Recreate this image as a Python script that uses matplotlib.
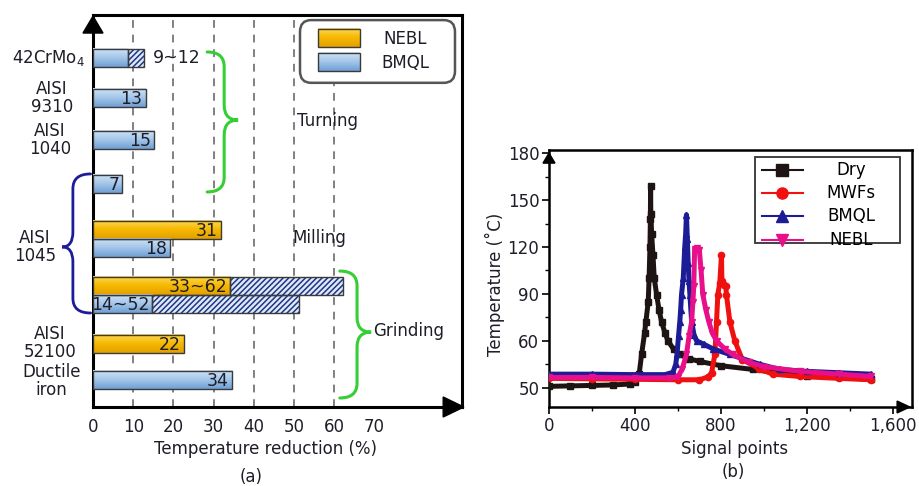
import numpy as np
import matplotlib
matplotlib.use('Agg')
import matplotlib.pyplot as plt
from matplotlib.patches import Rectangle, Polygon, PathPatch, FancyBboxPatch
from matplotlib.path import Path
from matplotlib.colors import LinearSegmentedColormap
from matplotlib.lines import Line2D

# ---------------- data: panel (a) ----------------
materials = ['42CrMo$_4$', 'AISI\n9310', 'AISI\n1040', 'AISI\n1045', 'AISI\n52100', 'Ductile\niron']
processes = ['Turning', 'Milling', 'Grinding']
bar_fluid = ['BMQL', 'BMQL', 'BMQL', 'BMQL', 'NEBL', 'BMQL', 'NEBL', 'BMQL', 'NEBL', 'BMQL']
bar_low = [8.6, 13.1, 15.2, 7.3, 31.8, 19.2, 34.2, 14.8, 22.7, 34.6]
bar_high = [12.7, np.nan, np.nan, np.nan, np.nan, np.nan, 62.3, 51.3, np.nan, np.nan]
bar_text = ['9~12', '13', '15', '7', '31', '18', '33~62', '14~52', '22', '34']
x_ticks_a = [0, 10, 20, 30, 40, 50, 60, 70]
legend_a = ['NEBL', 'BMQL']

# ---------------- data: panel (b) ----------------
dry_x = [0, 100, 200, 300, 377, 400, 420, 431, 445, 451, 462, 466, 470, 472, 473,
         474, 478, 484, 490, 501, 512, 524, 540, 554, 580, 609, 650, 702, 800, 950,
         1042, 1200, 1350, 1500]
dry_y = [50.3, 50.4, 50.5, 50.6, 50.8, 51.2, 53.0, 57.1, 65.0, 72.2, 85.0, 100.0, 120.0, 138.0, 159.0,
         141.0, 128.0, 115.0, 100.0, 89.6, 80.0, 72.2, 65.0, 60.0, 58.2, 57.1, 56.2, 55.6, 54.7, 53.9,
         53.3, 52.6, 52.2, 51.8]
mwf_x = [0, 200, 400, 600, 700, 740, 757, 772, 780, 786, 795, 803, 805, 815, 823, 826,
         842, 865, 900, 980, 1042, 1167, 1350, 1500]
mwf_y = [52.0, 51.9, 51.8, 51.7, 51.7, 52.3, 53.2, 57.1, 72.2, 89.6, 97.0, 114.7, 98.3, 96.0, 95.0, 89.6,
         72.2, 60.0, 56.0, 54.0, 52.9, 52.4, 52.0, 51.7]
bmql_x = [0, 200, 400, 540, 577, 590, 596, 603, 609, 613, 617, 625, 632, 636, 640, 644, 648,
          652, 656, 664, 675, 687, 720, 763, 842, 981, 1074, 1200, 1350, 1500]
bmql_y = [52.9, 52.9, 52.8, 52.8, 53.3, 55.0, 57.1, 63.0, 72.2, 80.0, 89.6, 100.0, 120.0, 128.0, 140.6, 125.0, 110.0,
          98.0, 89.6, 72.2, 64.0, 60.0, 59.3, 58.3, 57.1, 55.0, 53.9, 53.5, 53.2, 52.9]
nebl_x = [0, 200, 400, 560, 600, 620, 640, 652, 664, 670, 674, 678, 690, 700, 708, 716, 730,
          744, 760, 780, 820, 856, 932, 1000, 1167, 1350, 1500]
nebl_y = [52.2, 52.2, 52.1, 52.1, 52.3, 54.0, 57.1, 63.0, 72.2, 85.0, 95.0, 119.0, 119.5, 118.0, 105.0, 89.6, 80.0,
          72.2, 65.0, 60.0, 58.2, 57.1, 55.4, 54.5, 53.5, 52.9, 52.4]
series_names = ['Dry', 'MWFs', 'BMQL', 'NEBL']
x_ticks_b = [0, 400, 800, 1200, 1600]
x_ticklabels_b = ['0', '400', '800', '1,200', '1,600']
y_ticks_b = [50, 60, 90, 120, 150, 180]

# ---------------- styles ----------------
TXT = '#1e1e28'
GOLD = ['#ffd957', '#f6b800', '#e3a000']
BLUE = ['#d3e4f5', '#a3c6ea', '#6f9fd3']
HATCH_FC = '#dfe9f6'
HATCH_EC = '#1f3585'
EDGE = '#3a3a3a'
GREEN = '#35cf35'
NAVY = '#1c1c9a'
line_colors = ['#1e1414', '#f01010', '#1c1c96', '#e8108a']
line_markers = ['s', 'o', '^', 'v']

plt.rcParams['font.family'] = ['DejaVu Sans']
plt.rcParams['hatch.linewidth'] = 1.1

fig = plt.figure(figsize=(9.19, 4.86), dpi=100)
W, H = 919.0, 486.0


def fx(px):
    return px / W


def fy(py):
    return 1 - py / H


# ======================= panel (a) =======================
axa = fig.add_axes([fx(93), fy(407), (462 - 93) / W, (407 - 15) / H])
row_pos = [0, 2.17, 4.46, 6.85, 9.35, 10.33, 12.39, 13.37, 15.54, 17.5]
bar_h = 0.98
mat_pos = [(0.0, -2.0, 'right'), (2.17, -10.2, 'center'), (4.46, -10.7, 'center'),
           (10.27, -14.4, 'center'), (15.49, -10.7, 'center'), (17.55, -10.4, 'center')]


def gradient_rect(ax, x0, x1, yc, h, colors, z=3):
    cmap = LinearSegmentedColormap.from_list('g', colors)
    grad = np.linspace(0, 1, 60).reshape(-1, 1)
    ax.imshow(grad, extent=(x0, x1, yc + h / 2, yc - h / 2), origin='upper',
              aspect='auto', cmap=cmap, zorder=z, interpolation='bilinear')


for i, (yc, fl) in enumerate(zip(row_pos, bar_fluid)):
    lo = bar_low[i]
    hi = bar_high[i]
    cols = GOLD if fl == 'NEBL' else BLUE
    gradient_rect(axa, 0, lo, yc, bar_h, cols)
    axa.add_patch(Rectangle((0, yc - bar_h / 2), lo, bar_h, fill=False, ec=EDGE, lw=1.0, zorder=5))
    if not np.isnan(hi):
        axa.add_patch(Rectangle((lo, yc - bar_h / 2), hi - lo, bar_h, fc=HATCH_FC, ec=HATCH_EC,
                                hatch='//////', lw=0, zorder=3))
        axa.add_patch(Rectangle((lo, yc - bar_h / 2), hi - lo, bar_h, fill=False, ec=EDGE, lw=1.0, zorder=5))
    if i == 0:
        axa.text(hi + 2.3, yc, bar_text[i], ha='left', va='center', fontsize=12.5, color=TXT, zorder=6)
    else:
        axa.text(lo - 0.8, yc + 0.05, bar_text[i], ha='right', va='center', fontsize=12.5, color=TXT, zorder=6)

for (yc, xc, ha), m in zip(mat_pos, materials):
    axa.text(xc, yc, m, ha=ha, va='center', fontsize=12, color=TXT, linespacing=1.0,
             multialignment='center', clip_on=False)

for xv in x_ticks_a[1:-1]:
    axa.axvline(xv, color='#808080', lw=1.4, ls=(0, (4, 3.5)), zorder=1)


def brace(ax, x_end, x_tip, y0, y1, ym, color, frac=0.55, r=0.8, lw=2.2):
    xl = x_end + (x_tip - x_end) * frac
    verts = [(x_end, y0), (xl, y0), (xl, y0 + r), (xl, ym - r), (xl, ym), (x_tip, ym),
             (xl, ym), (xl, ym + r), (xl, y1 - r), (xl, y1), (x_end, y1)]
    codes = [Path.MOVETO, Path.CURVE3, Path.CURVE3, Path.LINETO, Path.CURVE3, Path.CURVE3,
             Path.CURVE3, Path.CURVE3, Path.LINETO, Path.CURVE3, Path.CURVE3]
    ax.add_patch(PathPatch(Path(verts, codes), fill=False, ec=color, lw=lw, clip_on=False, zorder=6,
                           capstyle='round'))


brace(axa, 28.4, 36.1, -0.33, 7.28, 3.37, GREEN)
brace(axa, 61.4, 69.2, 11.58, 18.48, 14.9, GREEN)
brace(axa, -0.6, -7.7, 6.3, 13.86, 10.27, NAVY, frac=0.62, lw=2.0)

axa.text(50.7, 3.42, processes[0], ha='left', va='center', fontsize=12, color=TXT)
axa.text(49.5, 9.78, processes[1], ha='left', va='center', fontsize=12, color=TXT)
axa.text(69.6, 14.84, processes[2], ha='left', va='center', fontsize=12, color=TXT)

# manual legend (a)
axa.add_patch(FancyBboxPatch((0.561, 0.827), 0.42, 0.16, boxstyle='round,pad=0,rounding_size=0.03',
                             transform=axa.transAxes, fc='white', ec='#555555', lw=1.8, zorder=7))
for yc, name in zip([-1.09, 0.2], legend_a):
    cols = GOLD if name == 'NEBL' else BLUE
    gradient_rect(axa, 56.0, 66.4, yc, 0.98, cols, z=8)
    axa.add_patch(Rectangle((56.0, yc - 0.49), 10.4, 0.98, fill=False, ec=EDGE, lw=1.0, zorder=9))
    axa.text(77.6, yc + 0.05, name, ha='center', va='center', fontsize=12, color=TXT, zorder=9)

axa.set_xlim(0, 91.8)
axa.set_ylim(18.97, -2.34)
axa.set_xticks(x_ticks_a)
axa.set_xticklabels([str(v) for v in x_ticks_a])
axa.set_yticks([])
axa.tick_params(axis='x', length=0, pad=8, labelsize=12, labelcolor=TXT)
for s in axa.spines.values():
    s.set_linewidth(2.2)
    s.set_color('black')
axa.add_patch(Polygon([(0, 0.997), (-10 / 369, 0.954), (10 / 369, 0.954)], closed=True,
                      transform=axa.transAxes, fc='black', ec='black', clip_on=False, zorder=10))
axa.add_patch(Polygon([(1.005, 0), (0.949, 0.0255), (0.949, -0.0255)], closed=True,
                      transform=axa.transAxes, fc='black', ec='black', clip_on=False, zorder=10))

fig.text(fx(266), fy(449), 'Temperature reduction (%)', ha='center', va='center', fontsize=12, color=TXT)
fig.text(fx(251), fy(477), '(a)', ha='center', va='center', fontsize=12, color=TXT)

# ======================= panel (b) =======================
axb = fig.add_axes([fx(549), fy(407), (912 - 549) / W, (407 - 150) / H])


def fwd(y):
    y = np.asarray(y, dtype=float)
    return np.where(y <= 60, (y - 50) / 10.0, 1 + (y - 60) / 30.0)


def inv(t):
    t = np.asarray(t, dtype=float)
    return np.where(t <= 1, 50 + 10.0 * t, 60 + 30.0 * (t - 1))


axb.set_yscale('function', functions=(fwd, inv))

series = [(dry_x, dry_y), (mwf_x, mwf_y), (bmql_x, bmql_y), (nebl_x, nebl_y)]
for (xs, ys), c, mk in zip(series, line_colors, line_markers):
    axb.plot(xs, ys, color=c, lw=3.6, marker=mk, ms=4.5, mec=c, mfc=c, solid_capstyle='butt', zorder=3)

axb.set_xlim(0, 1690)
axb.set_ylim(45.9, 182)
axb.set_xticks(x_ticks_b)
axb.set_xticklabels(x_ticklabels_b)
axb.set_xticks([200, 600, 1000, 1400], minor=True)
axb.set_yticks(y_ticks_b)
axb.set_yticklabels([str(v) for v in y_ticks_b])
axb.set_yticks([55, 75, 105, 135, 165], minor=True)
axb.yaxis.set_minor_formatter(matplotlib.ticker.NullFormatter())
axb.tick_params(which='major', direction='out', length=5, width=1.2, labelsize=12, labelcolor=TXT, pad=2)
axb.tick_params(which='minor', direction='out', length=3, width=1.0)
for s in axb.spines.values():
    s.set_linewidth(1.8)
    s.set_color('black')
axb.add_patch(Polygon([(0, 0.988), (-0.0165, 0.949), (0.0165, 0.949)], closed=True,
                      transform=axb.transAxes, fc='black', ec='black', clip_on=False, zorder=10))
axb.add_patch(Polygon([(0.994, 0), (0.959, 0.023), (0.959, -0.023)], closed=True,
                      transform=axb.transAxes, fc='black', ec='black', clip_on=False, zorder=10))

# manual legend (b)
axb.add_patch(Rectangle((0.567, 0.638), 0.40, 0.335, transform=axb.transAxes, fc='white',
                        ec='#333333', lw=1.3, zorder=7))
for yl, name, c, mk in zip([0.922, 0.833, 0.743, 0.650], series_names, line_colors, line_markers):
    axb.add_line(Line2D([0.587, 0.700], [yl, yl], transform=axb.transAxes, color=c, lw=1.5, zorder=8))
    axb.add_line(Line2D([0.643], [yl], transform=axb.transAxes, color=c, marker=mk, ms=8,
                        mec=c, mfc=c, zorder=9))
    axb.text(0.832, yl, name, transform=axb.transAxes, ha='center', va='center', fontsize=12,
             color='black', zorder=9)

fig.text(fx(495), fy(284), 'Temperature (˚C)', rotation=90, ha='center', va='center', fontsize=12, color=TXT)
fig.text(fx(735), fy(449), 'Signal points', ha='center', va='center', fontsize=12, color=TXT)
fig.text(fx(733), fy(472), '(b)', ha='center', va='center', fontsize=12, color=TXT)

fig.savefig('out.png', dpi=100)
